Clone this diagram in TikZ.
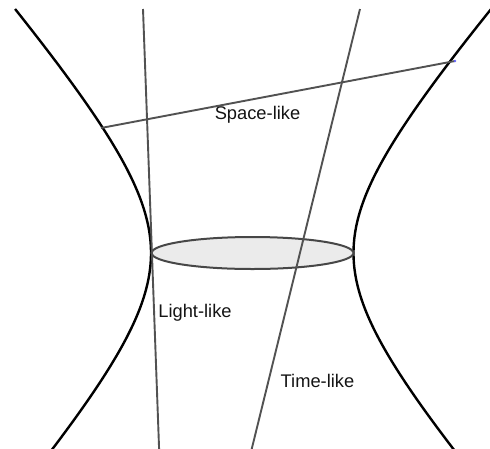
\documentclass[tikz,border=0pt]{standalone}
\usepackage{fontspec}
\setmainfont{Liberation Sans}
\usetikzlibrary{shapes.geometric}

\begin{document}
\begin{tikzpicture}[
  x=1pt, y=-1pt,
  font=\fontsize{18.3}{21}\selectfont,
  hyp/.style={draw=black, line width=2.4pt, smooth, samples=80},
  geo/.style={draw=black!68, line width=1.9pt},
  waistring/.style={ellipse, draw=black!72, line width=2pt, fill=black!8, minimum width=202pt, minimum height=32pt, inner sep=0pt},
  lbl/.style={text=black!92, inner sep=0pt}
]
\clip (0,0) rectangle (490,448);
% hyperboloid outline
\draw[hyp] plot[domain=9:460] ({252-101*sqrt(1+((\x-253)/115)^2)},\x);
\draw[hyp] plot[domain=0:460] ({252.5+101*sqrt(1+((\x-253)/114)^2)},\x);
% waist
\node[waistring] (waist) at (252.5,253) {};
% end points of the three lines
\coordinate (lt) at (143,9);
\coordinate (lb) at (159.5,460);
\coordinate (tt) at (360,9);
\coordinate (tb) at (249,460);
\coordinate (sl) at (101,128);
\coordinate (sr) at (455,61);
\draw[geo] (lt) -- (lb);
\draw[geo] (tt) -- (tb);
\draw[geo] (sl) -- (sr);
\fill[blue!60] (sr) circle (1.3);
% labels
\node[lbl] (space) at (257.5,115) {Space-like};
\node[lbl] (light) at (195,313) {Light-like};
\node[lbl] (time) at (317.5,381) {Time-like};
\end{tikzpicture}
\end{document}
